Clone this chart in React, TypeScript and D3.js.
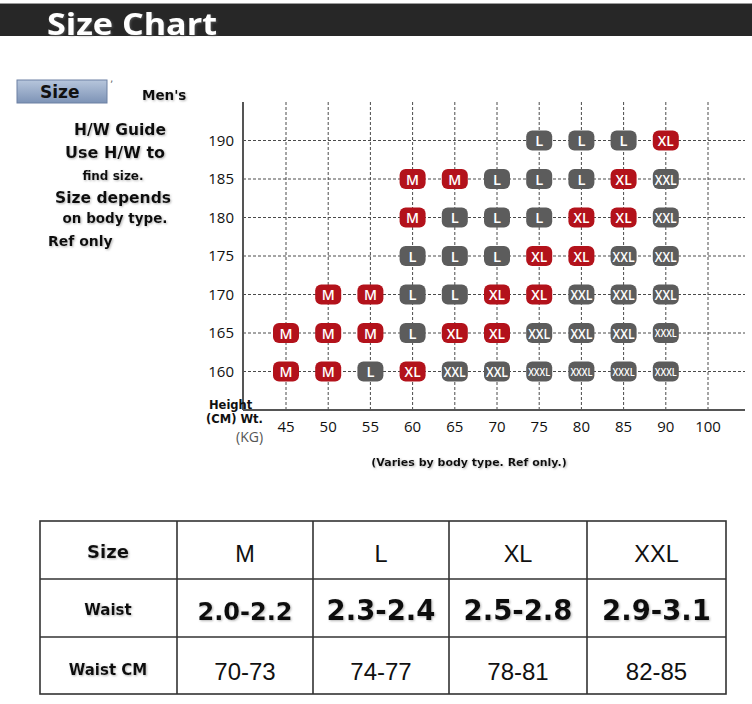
import React from "react";
import * as d3 from "d3";

const heights = [160, 165, 170, 175, 180, 185, 190];
const weightTicks = [45, 50, 55, 60, 65, 70, 75, 80, 85, 90, 100];
const weightCols = [45, 50, 55, 60, 65, 70, 75, 80, 85, 90];
// sizes per height row, aligned with weightCols ("" = empty)
const row160 = ["M", "M", "L", "XL", "XXL", "XXL", "XXXL", "XXXL", "XXXL", "XXXL"];
const row165 = ["M", "M", "M", "L", "XL", "XL", "XXL", "XXL", "XXL", "XXXL"];
const row170 = ["", "M", "M", "L", "L", "XL", "XL", "XXL", "XXL", "XXL"];
const row175 = ["", "", "", "L", "L", "L", "XL", "XL", "XXL", "XXL"];
const row180 = ["", "", "", "M", "L", "L", "L", "XL", "XL", "XXL"];
const row185 = ["", "", "", "M", "M", "L", "L", "L", "XL", "XXL"];
const row190 = ["", "", "", "", "", "", "L", "L", "L", "XL"];
const rows = [row160, row165, row170, row175, row180, row185, row190];

const tableSizes = ["M", "L", "XL", "XXL"];
const waistInch = ["2.0-2.2", "2.3-2.4", "2.5-2.8", "2.9-3.1"];
const waistCm = ["70-73", "74-77", "78-81", "82-85"];

const RED = "#b3121b";
const GRAY = "#5c5c5c";

export default function App() {
  const x = d3.scalePoint<string>().domain(weightTicks.map(String)).range([286, 708]);
  const y = d3.scaleLinear().domain([155, 195]).range([410, 102]);
  const axisX0 = 243;
  const axisXEnd = 745;
  const axisY0 = y(155);
  const axisYTop = y(195);

  const badges: { w: number; h: number; s: string }[] = [];
  rows.forEach((r, i) =>
    r.forEach((s, j) => {
      if (s) badges.push({ w: weightCols[j], h: heights[i], s });
    })
  );

  const colX = [40, 177, 313, 449, 587, 726];
  const rowY = [521, 579, 637, 694];

  const sans = "'DejaVu Sans', Verdana, sans-serif";
  const arial = "'Liberation Sans', Arial, sans-serif";
  const tick = "'Open Sans', 'Noto Sans', sans-serif";

  return (
    <svg
      width={752}
      height={704}
      viewBox="0 0 752 704"
      style={{ position: "absolute", left: 0, top: 0, background: "#fff" }}
    >
      <defs>
        <filter id="sh" x="-10%" y="-30%" width="130%" height="160%">
          <feDropShadow dx="1" dy="1" stdDeviation="0.8" floodColor="#777" floodOpacity="0.55" />
        </filter>
        <linearGradient id="btn" x1="0" y1="0" x2="0" y2="1">
          <stop offset="0" stopColor="#b7c6dc" />
          <stop offset="1" stopColor="#7d93b6" />
        </linearGradient>
      </defs>
      <rect x={0} y={0} width={752} height={704} fill="#fff" />

      {/* header */}
      <rect x={0} y={3} width={752} height={1} fill="#9a9a9a" />
      <rect x={0} y={4} width={752} height={32} fill="#272727" />
      <text
        x={47}
        y={35}
        fill="#fff"
        fontFamily={tick}
        fontWeight={700}
        fontSize={31}
        textLength={170}
        lengthAdjust="spacingAndGlyphs"
        filter="url(#sh)"
      >
        Size Chart
      </text>

      {/* size button */}
      <rect x={17} y={80} width={90} height={23} fill="url(#btn)" stroke="#6c80a3" strokeWidth={1} />
      <text x={40} y={98} fontFamily={sans} fontWeight={700} fontSize={17} fill="#111">
        Size
      </text>
      <text x={110} y={88} fontFamily={sans} fontSize={10} fill="#666">
        ʼ
      </text>
      <text x={142} y={100} fontFamily={sans} fontWeight={700} fontSize={13.5} fill="#111" filter="url(#sh)">
        Men's
      </text>

      {/* left notes */}
      <g fontFamily={sans} fontWeight={700} fill="#111" filter="url(#sh)" textAnchor="middle">
        <text x={120} y={135} fontSize={15.5}>H/W Guide</text>
        <text x={115} y={158} fontSize={16}>Use H/W to</text>
        <text x={113} y={180} fontSize={12}>find size.</text>
        <text x={113} y={203} fontSize={15.5}>Size depends</text>
        <text x={115} y={223} fontSize={13.5}>on body type.</text>
        <text x={48} y={246} fontSize={14} textAnchor="start">Ref only</text>
      </g>

      {/* grid */}
      <g stroke="#4a4a4a" strokeWidth={1} strokeDasharray="3,2">
        {heights.map((h) => (
          <line key={"h" + h} x1={axisX0} x2={axisXEnd} y1={y(h)} y2={y(h)} />
        ))}
        {weightTicks.map((w) => (
          <line key={"v" + w} x1={x(String(w))} x2={x(String(w))} y1={axisYTop} y2={axisY0} />
        ))}
      </g>
      <line x1={axisX0} x2={axisX0} y1={axisYTop} y2={axisY0} stroke="#555" strokeWidth={2} />
      <line x1={axisX0} x2={axisXEnd} y1={axisY0} y2={axisY0} stroke="#555" strokeWidth={2} />

      {/* y tick labels */}
      <g fontFamily={tick} fontSize={15} fill="#111" textAnchor="end">
        {heights.map((h) => (
          <text key={h} x={234} y={y(h) + 5}>
            {h}
          </text>
        ))}
      </g>
      {/* x tick labels */}
      <g fontFamily={tick} fontSize={15} fill="#111" textAnchor="middle">
        {weightTicks.map((w) => (
          <text key={w} x={x(String(w))} y={432}>
            {w}
          </text>
        ))}
      </g>
      <g fontFamily={sans} fontWeight={700} fontSize={11.5} fill="#111">
        <text x={209} y={409}>Height</text>
        <text x={206} y={423}>(CM) Wt.</text>
      </g>
      <text x={236} y={442} fontFamily={tick} fontSize={14} fill="#555">
        {"(KG)"}
      </text>

      {/* badges */}
      {badges.map((b, i) => {
        const cx = x(String(b.w)) as number;
        const cy = y(b.h);
        const fill = b.s === "M" || b.s === "XL" ? RED : GRAY;
        const small = b.s === "XXXL";
        const len = b.s === "M" ? 13 : b.s === "L" ? 8 : b.s === "XL" ? 16 : 22;
        return (
          <g key={i}>
            <rect x={cx - 13} y={cy - 10} width={26} height={20} rx={6} fill={fill} />
            <text
              x={cx}
              y={cy + (small ? 4 : 5.5)}
              fill="#fff"
              fontFamily={tick}
              fontWeight={600}
              fontSize={small ? 11 : 15}
              textAnchor="middle"
              textLength={len}
              lengthAdjust="spacingAndGlyphs"
            >
              {b.s}
            </text>
          </g>
        );
      })}

      <text
        x={469}
        y={466}
        fontFamily={sans}
        fontWeight={700}
        fontSize={11}
        fill="#111"
        textAnchor="middle"
        filter="url(#sh)"
      >
        (Varies by body type. Ref only.)
      </text>

      {/* table */}
      <g stroke="#333" strokeWidth={1.6} fill="none">
        <rect x={colX[0]} y={rowY[0]} width={colX[5] - colX[0]} height={rowY[3] - rowY[0]} />
        {colX.slice(1, 5).map((cx) => (
          <line key={cx} x1={cx} x2={cx} y1={rowY[0]} y2={rowY[3]} />
        ))}
        {rowY.slice(1, 3).map((ry) => (
          <line key={ry} x1={colX[0]} x2={colX[5]} y1={ry} y2={ry} />
        ))}
      </g>
      <g fontFamily={sans} fontWeight={700} fill="#111" textAnchor="middle" filter="url(#sh)">
        <text x={108} y={558} fontSize={18}>Size</text>
        <text x={108} y={615} fontSize={15}>Waist</text>
        <text x={108} y={675} fontSize={15}>Waist CM</text>
      </g>
      {tableSizes.map((s, i) => {
        const cx = (colX[i + 1] + colX[i + 2]) / 2;
        return (
          <g key={s}>
            <text x={cx} y={562} fontFamily={arial} fontSize={23.5} fill="#111" textAnchor="middle">
              {s}
            </text>
            <text
              x={cx}
              y={620}
              fontFamily={sans}
              fontWeight={700}
              fontSize={i === 0 ? 24 : 27.5}
              fill="#111"
              textAnchor="middle"
              filter="url(#sh)"
            >
              {waistInch[i]}
            </text>
            <text x={cx} y={680} fontFamily={arial} fontSize={24} fill="#111" textAnchor="middle">
              {waistCm[i]}
            </text>
          </g>
        );
      })}
    </svg>
  );
}
